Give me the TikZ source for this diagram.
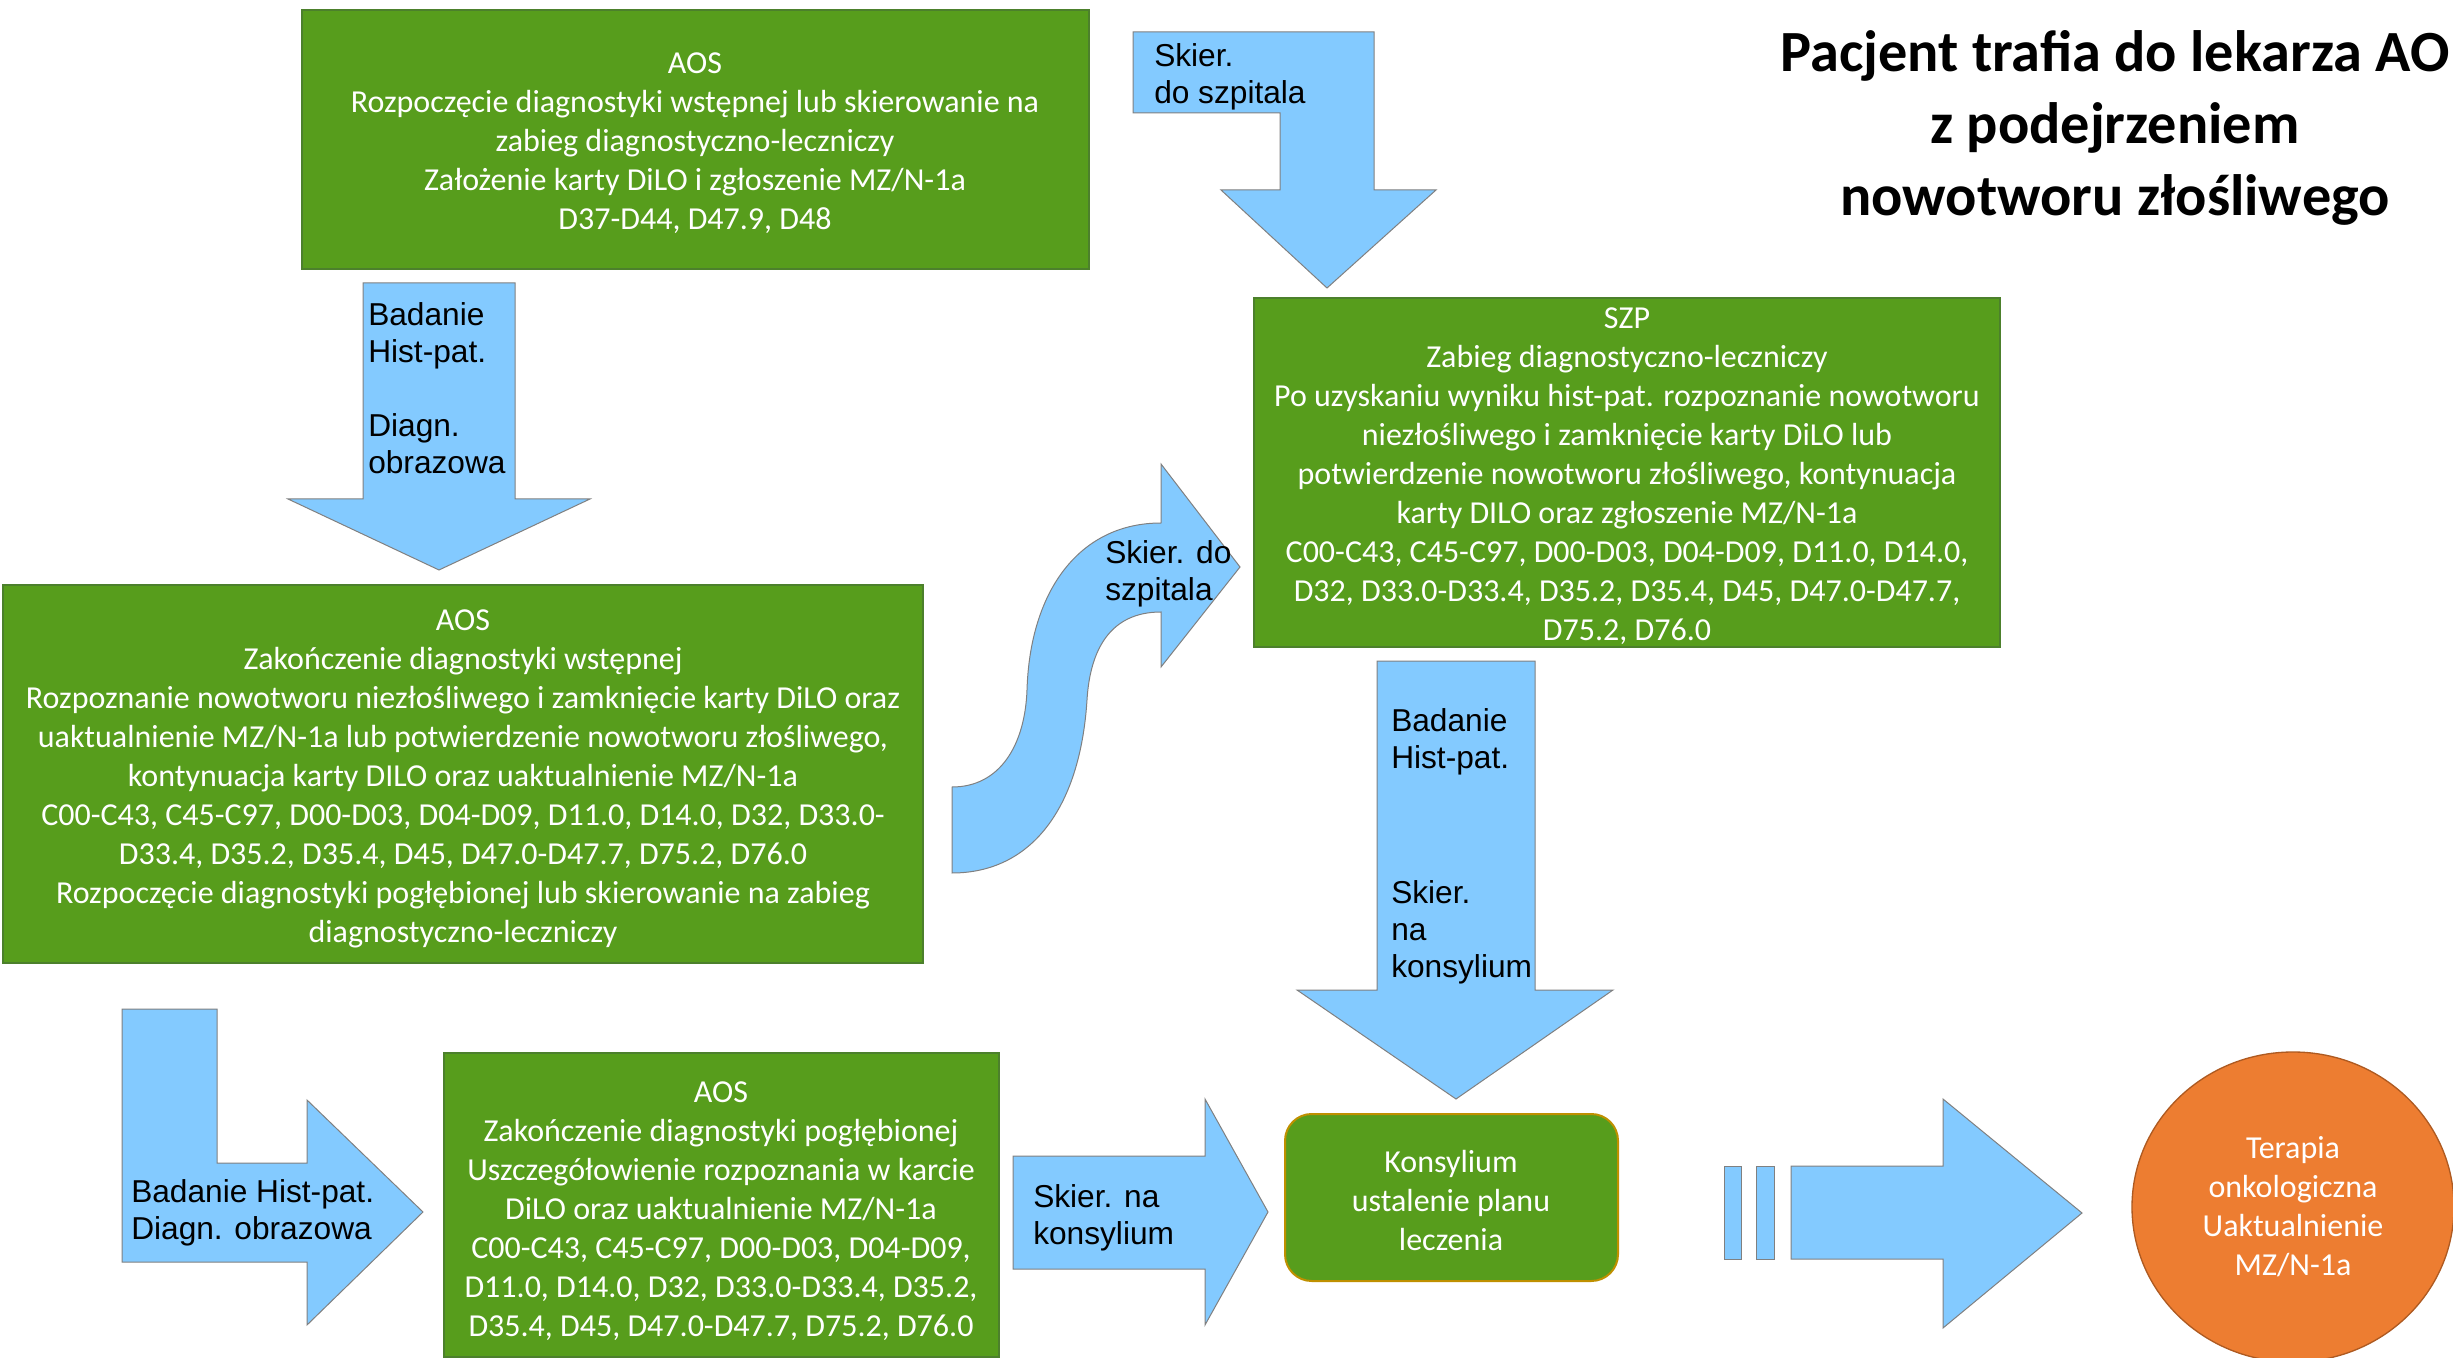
\documentclass[tikz,border=0pt]{standalone}
\usepackage{fontspec}
\setmainfont{Carlito}
\newfontfamily\arialfont{Liberation Sans}

\definecolor{boxgreen}{RGB}{87,157,28}
\definecolor{boxedge}{RGB}{76,128,44}
\definecolor{arrowblue}{RGB}{131,202,255}
\definecolor{arrowedge}{RGB}{128,128,128}
\definecolor{goldedge}{RGB}{191,144,0}
\definecolor{therapy}{RGB}{237,125,49}
\definecolor{therapyedge}{RGB}{174,90,33}

\tikzset{every picture/.style={line width=0.75pt}}
\tikzset{
  greenbox/.style={fill=boxgreen, draw=boxedge, line width=0.4pt},
  bluearrow/.style={fill=arrowblue, draw=arrowedge, line width=0.3pt},
  boxtext/.style={text=white, align=center, inner sep=0pt, font=\fontsize{9.6}{11.7}\selectfont},
  arrowtext/.style={text=black, align=left, inner sep=0pt, anchor=west, font=\arialfont\fontsize{9.5}{11.1}\selectfont},
  titletext/.style={text=black, align=center, inner sep=0pt, font=\bfseries\fontsize{17.5}{21.6}\selectfont}
}

\begin{document}
\begin{tikzpicture}[x=0.3pt,y=0.3pt,yscale=-1,xscale=1]
\useasboundingbox (0,0) rectangle (2453,1358);

%Shape: Rectangle
\draw [greenbox] (302,10) rectangle (1089,269);
%Shape: Rectangle
\draw [greenbox] (3,585) rectangle (923,963);
%Shape: Rectangle
\draw [greenbox] (1254,298) rectangle (2000,647);
%Shape: Rectangle
\draw [greenbox] (444,1053) rectangle (999,1357);
%Shape: Rounded Rect
\draw [fill=boxgreen, draw=goldedge, line width=0.6pt, rounded corners=8pt] (1285,1114) rectangle (1618,1281);
%Shape: Ellipse
\draw [fill=therapy, draw=therapyedge, line width=0.4pt] (2293,1207) ellipse [x radius=161, y radius=155];

%Shape: Down Arrow
\draw [bluearrow] (363,283) -- (515,283) -- (515,499) -- (590,499) -- (439,570) -- (288,499) -- (363,499) -- cycle ;
%Shape: Bent Arrow
\draw [bluearrow] (1133,32) -- (1374,32) -- (1374,190) -- (1436,190) -- (1327,288) -- (1221,190) -- (1280,190) -- (1280,113) -- (1133,113) -- cycle ;
%Shape: Curved Arrow
\draw [bluearrow] (952,787) .. controls (1000,787) and (1025,745) .. (1027,690) .. controls (1030,590) and (1080,523) .. (1161,523) -- (1161,464) -- (1240,567) -- (1161,667) -- (1161,612) .. controls (1110,612) and (1090,650) .. (1087,700) .. controls (1080,810) and (1030,873) .. (952,873) -- cycle ;
%Shape: Down Arrow
\draw [bluearrow] (1377,661) -- (1535,661) -- (1535,990) -- (1613,990) -- (1456,1099) -- (1297,990) -- (1377,990) -- cycle ;
%Shape: Bent Arrow
\draw [bluearrow] (122,1009) -- (217,1009) -- (217,1163) -- (307,1163) -- (307,1100) -- (423,1212) -- (307,1325) -- (307,1262) -- (122,1262) -- cycle ;
%Shape: Right Arrow
\draw [bluearrow] (1013,1156) -- (1205,1156) -- (1205,1099) -- (1268,1212) -- (1205,1325) -- (1205,1269) -- (1013,1269) -- cycle ;
%Shape: Striped Right Arrow
\draw [bluearrow] (1724,1166) rectangle (1741,1259) ;
\draw [bluearrow] (1756,1166) rectangle (1774,1259) ;
\draw [bluearrow] (1791,1166) -- (1943,1166) -- (1943,1099) -- (2082,1213) -- (1943,1328) -- (1943,1259) -- (1791,1259) -- cycle ;

% Text Node
\draw (695,143) node (aosStart) [boxtext] {AOS\\Rozpoczęcie diagnostyki wstępnej lub skierowanie na\\zabieg diagnostyczno-leczniczy\\Założenie karty DiLO i zgłoszenie MZ/N-1a\\D37-D44, D47.9, D48};
% Text Node
\draw (463,779) node (aosMid) [boxtext] {AOS\\Zakończenie diagnostyki wstępnej\\Rozpoznanie nowotworu niezłośliwego i zamknięcie karty DiLO oraz\\uaktualnienie MZ/N-1a lub potwierdzenie nowotworu złośliwego,\\kontynuacja karty DILO oraz uaktualnienie MZ/N-1a\\C00-C43, C45-C97, D00-D03, D04-D09, D11.0, D14.0, D32, D33.0-\\D33.4, D35.2, D35.4, D45, D47.0-D47.7, D75.2, D76.0\\Rozpoczęcie diagnostyki pogłębionej lub skierowanie na zabieg\\diagnostyczno-leczniczy};
% Text Node
\draw (1627,476) node (szp) [boxtext] {SZP\\Zabieg diagnostyczno-leczniczy\\Po uzyskaniu wyniku hist-pat. rozpoznanie nowotworu\\niezłośliwego i zamknięcie karty DiLO lub\\potwierdzenie nowotworu złośliwego, kontynuacja\\karty DILO oraz zgłoszenie MZ/N-1a\\C00-C43, C45-C97, D00-D03, D04-D09, D11.0, D14.0,\\D32, D33.0-D33.4, D35.2, D35.4, D45, D47.0-D47.7,\\D75.2, D76.0};
% Text Node
\draw (721,1211) node (aosEnd) [boxtext] {AOS\\Zakończenie diagnostyki pogłębionej\\Uszczegółowienie rozpoznania w karcie\\DiLO oraz uaktualnienie MZ/N-1a\\C00-C43, C45-C97, D00-D03, D04-D09,\\D11.0, D14.0, D32, D33.0-D33.4, D35.2,\\D35.4, D45, D47.0-D47.7, D75.2, D76.0};
% Text Node
\draw (1451,1201) node (konsylium) [boxtext] {Konsylium\\ustalenie planu\\leczenia};
% Text Node
\draw (2293,1207) node (terapia) [boxtext] {Terapia\\onkologiczna\\Uaktualnienie\\MZ/N-1a};
% Text Node
\draw (2115,128) node (title) [titletext] {Pacjent trafia do lekarza AO\\z podejrzeniem\\nowotworu złośliwego};

% Text Node
\draw (367,388) node (lblDiagA) [arrowtext] {Badanie\\Hist-pat.\\[11.1pt]Diagn.\\obrazowa};
% Text Node
\draw (1153,77) node (lblSzpitalA) [arrowtext] {Skier.\\do szpitala};
% Text Node
\draw (1104,574) node (lblSzpitalB) [arrowtext] {Skier. do\\szpitala};
% Text Node
\draw (1390,846) node (lblKonsA) [arrowtext] {Badanie\\Hist-pat.\\[29.4pt]Skier.\\na\\konsylium};
% Text Node
\draw (130,1213) node (lblDiagB) [arrowtext] {Badanie Hist-pat.\\Diagn. obrazowa};
% Text Node
\draw (1032,1218) node (lblKonsB) [arrowtext] {Skier. na\\konsylium};

\end{tikzpicture}
\end{document}
